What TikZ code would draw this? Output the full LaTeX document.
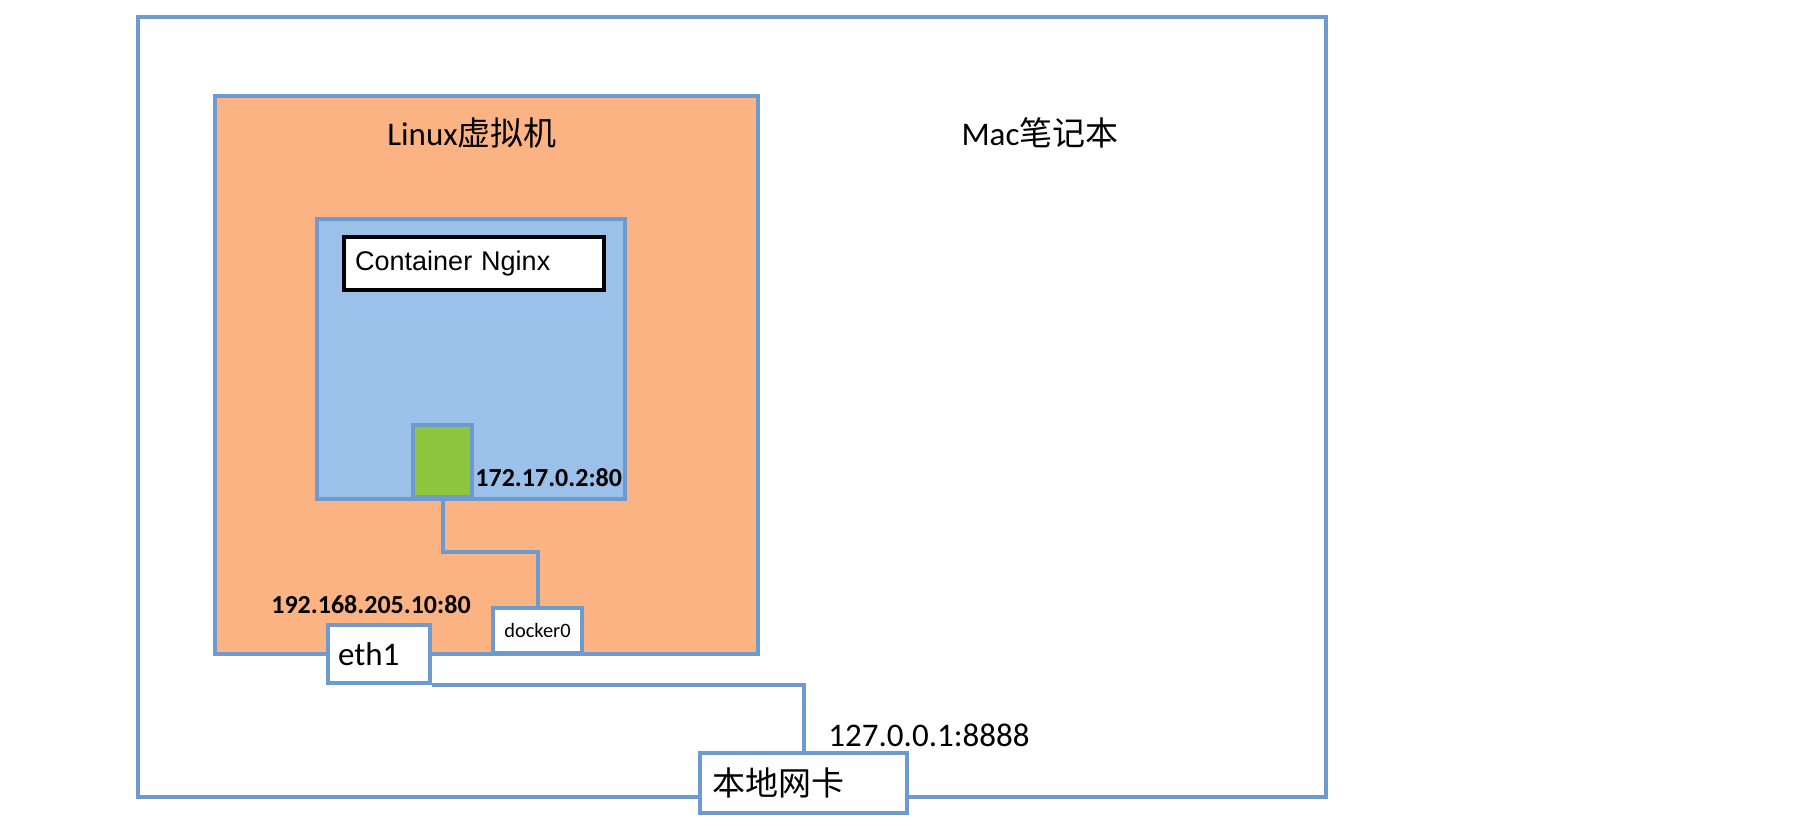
\documentclass[tikz,border=0pt]{standalone}
\usepackage{fontspec}
\setmainfont{Carlito}
\newfontfamily\cjk{Noto Sans CJK SC}
\newfontfamily\helv{Liberation Sans}
\definecolor{edgeblue}{HTML}{6E9BCF}
\definecolor{vmorange}{HTML}{FBB383}
\definecolor{ctblue}{HTML}{9BC0E9}
\definecolor{portgreen}{HTML}{8DC63F}
\begin{document}
\begin{tikzpicture}[x=0.5pt, y=-0.5pt, font=\fontsize{16.5}{20}\selectfont]
	\tikzset{box/.style={draw=edgeblue, line width=2pt, inner sep=0pt},
		wire/.style={edgeblue, line width=2pt},
		ip/.style={font=\fontsize{13}{15}\selectfont\bfseries, inner sep=0pt}}
	\useasboundingbox (0,0) rectangle (1796,828);
	% host and vm
	\node[box, minimum width=594pt, minimum height=390pt] (mac) at (732,407) {};
	\node[box, fill=vmorange, minimum width=271.5pt, minimum height=279pt] (linux) at (486.5,375) {};
	\node (linuxlbl) at (472,133) {Linux\cjk 虚拟机};
	\node (maclbl) at (1040,133) {Mac\cjk 笔记本};
	% container
	\node[box, fill=ctblue, minimum width=154pt, minimum height=140pt] (ct) at (471,359) {};
	\node[draw=black, line width=2.2pt, fill=white, anchor=west, inner xsep=5.5pt, text width=119pt, align=left, minimum height=26.5pt, font=\helv\fontsize{13.5}{16}\selectfont] (nginx) at (342,263.5) {Container Nginx};
	\node[box, fill=portgreen, minimum width=29.5pt, minimum height=36pt] (port) at (442.5,461) {};
	\node[ip, anchor=west] (ctip) at (475,478) {172.17.0.2:80};
	% interfaces
	\node[box, fill=white, minimum width=44.5pt, minimum height=22.5pt, font=\fontsize{10.2}{12}\selectfont] (docker) at (537.5,630.5) {docker0};
	\node[box, fill=white, anchor=west, inner xsep=5pt, text width=41pt, align=left, minimum height=29pt] (eth) at (326,654) {eth1};
	\node[ip] (ethip) at (371,605) {192.168.205.10:80};
	\node[box, fill=white, anchor=west, inner xsep=6pt, text width=91.5pt, align=left, minimum height=30pt, font=\cjk\fontsize{16.5}{20}\selectfont] (nic) at (698,783) {本地网卡};
	\node (nicip) at (929,735) {127.0.0.1:8888};
	\coordinate (bend) at (490,552);
	\draw[wire] (port.south) |- (bend) -| (docker.north);
	\draw[wire] (eth.south east) -| (nic.north);
\end{tikzpicture}
\end{document}
